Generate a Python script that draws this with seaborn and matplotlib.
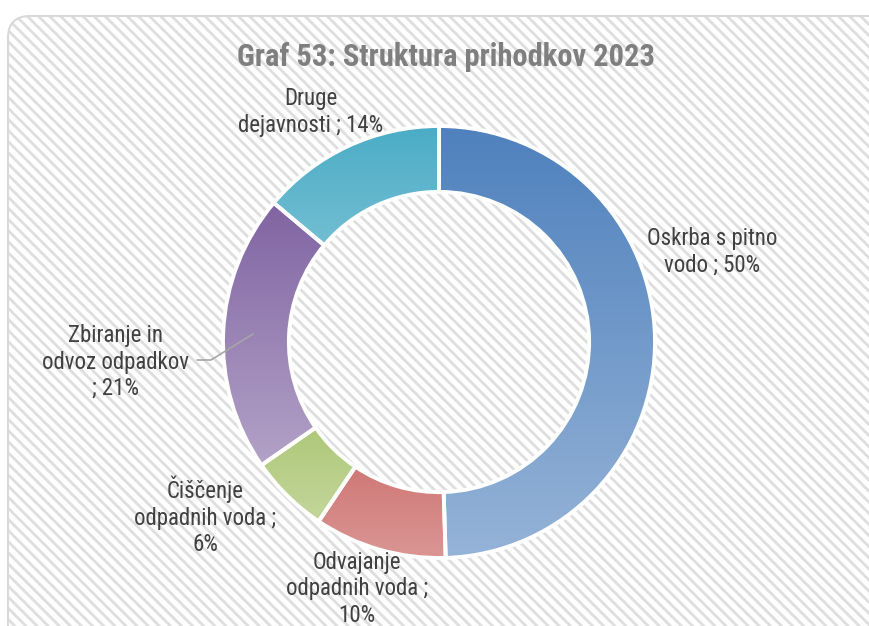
import numpy as np
import matplotlib
matplotlib.use("Agg")
import matplotlib.pyplot as plt
from matplotlib.patches import FancyBboxPatch
import seaborn as sns

# Revenue structure, share in percent
categories = ["Oskrba s pitno vodo", "Odvajanje odpadnih voda", "Čiščenje odpadnih voda",
              "Zbiranje in odvoz odpadkov", "Druge dejavnosti"]
shares = [50, 10, 6, 21, 14]
label_texts = ["Oskrba s pitno\nvodo ; 50%",
               "Odvajanje\nodpadnih voda ;\n10%",
               "Čiščenje\nodpadnih voda ;\n6%",
               "Zbiranje in\nodvoz odpadkov\n; 21%",
               "Druge\ndejavnosti ; 14%"]
# gradient end colours (top, bottom) for each wedge
top_colors = ["#4F81BD", "#C0504D", "#9BBB59", "#8064A2", "#4BACC6"]
bottom_colors = ["#95B3D7", "#DA9694", "#C3D69B", "#B3A2C7", "#93CDDD"]
title = "Graf 53: Struktura prihodkov 2023"

sns.set_theme(style="white")
plt.rcParams["font.family"] = ["Roboto Condensed", "Roboto", "DejaVu Sans"]
plt.rcParams["hatch.linewidth"] = 2.0

W, H = 869, 626
fig = plt.figure(figsize=(W / 100, H / 100), dpi=100)
fig.patch.set_facecolor("white")

# background panel in pixel coordinates
bg = fig.add_axes([0, 0, 1, 1])
bg.set_xlim(0, W)
bg.set_ylim(H, 0)
bg.axis("off")
panel = FancyBboxPatch((8, 16), 940, 700, boxstyle="round,pad=0,rounding_size=22",
                       facecolor="white", edgecolor="#dedede", linewidth=0,
                       hatch="\\\\\\")
bg.add_patch(panel)
frame = FancyBboxPatch((8, 16), 940, 700, boxstyle="round,pad=0,rounding_size=22",
                       facecolor="none", edgecolor="#d9d9d9", linewidth=1.5)
bg.add_patch(frame)

# donut axes: centre (439, 342) px, outer radius 216 px
cx, cy, R = 439, 342, 216
ax = fig.add_axes([(cx - R) / W, 1 - (cy + R) / H, 2 * R / W, 2 * R / H])
ax.set_xlim(-1, 1)
ax.set_ylim(-1, 1)
ax.axis("off")

wedges, _ = ax.pie(shares, startangle=90, counterclock=False, radius=1.0,
                   wedgeprops=dict(width=0.305, edgecolor="white", linewidth=2.8))

grad = np.linspace(0, 1, 256).reshape(-1, 1)
for w, c0, c1 in zip(wedges, top_colors, bottom_colors):
    w.set_facecolor("none")
    w.set_zorder(3)
    verts = w.get_patch_transform().transform(w.get_path().vertices)
    x0, y0 = verts.min(axis=0)
    x1, y1 = verts.max(axis=0)
    cmap = sns.blend_palette([c0, c1], n_colors=256, as_cmap=True)
    # row 0 (dark colour) sits at the top edge of the wedge
    im = ax.imshow(grad, cmap=cmap, extent=(x0, x1, y0, y1), aspect="auto",
                   origin="upper", zorder=2, interpolation="bilinear")
    im.set_clip_path(w)

ax.set_xlim(-1, 1)
ax.set_ylim(-1, 1)


def px(x, y):
    return (x - cx) / R, (cy - y) / R


label_pos = [(712, 252), (357, 589), (205, 516), (115, 362), (311, 112)]
for txt, (lx, ly) in zip(label_texts, label_pos):
    ax.text(*px(lx, ly), txt, ha="center", va="center", fontsize=16.5,
            color="#404040", linespacing=1.2, clip_on=False)

# leader line for the purple wedge label
lx, ly = zip(px(197, 360), px(211, 360), px(253, 334))
ax.plot(lx, ly, color="#a6a6a6", linewidth=1.2, clip_on=False, zorder=4)

fig.text(446 / W, 1 - 57 / H, title, ha="center", va="center", fontsize=22,
         fontweight="bold", color="#7f7f7f")

fig.savefig("out.png", dpi=100)
